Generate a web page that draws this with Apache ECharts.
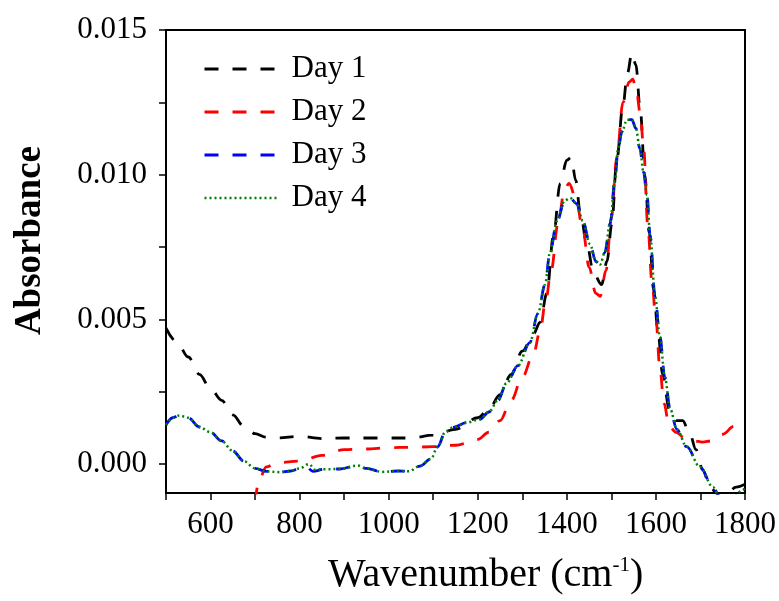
<!DOCTYPE html>
<html>
<head>
<meta charset="utf-8">
<script src="https://cdn.jsdelivr.net/npm/echarts@6/dist/echarts.min.js"></script>
<style>html,body{margin:0;padding:0;background:#fff;}#c{width:779px;height:601px;}</style>
</head>
<body>
<div id="c"></div>
<script>
var seriesNames = ['Day 1', 'Day 2', 'Day 3', 'Day 4'];
var xTickLabels = ['600', '800', '1000', '1200', '1400', '1600', '1800'];
var yTickLabels = ['0.000', '0.005', '0.010', '0.015'];

var day1X = [500,525,550,575,600,625,650,675,700,725,750,800,850,900,950,1000,1050,1100,1150,1200,1225,1250,1275,1300,1325,1340,1355,1370,1385,1400,1410,1420,1430,1445,1460,1478,1490,1501,1512,1526,1536,1546,1555,1565,1575,1585,1595,1605,1615,1630,1645,1660,1675,1690,1705,1720,1735,1748,1760,1780,1800];
var day1Y = [0.0047,0.0042,0.0037,0.0031,0.0026,0.0022,0.0017,0.0013,0.00105,0.00093,0.0009,0.00096,0.00088,0.0009,0.0009,0.0009,0.0009,0.0010,0.0012,0.0016,0.0019,0.0024,0.0031,0.0039,0.0045,0.0049,0.0059,0.0079,0.0097,0.0105,0.0106,0.0098,0.0087,0.0076,0.0066,0.0062,0.0070,0.0083,0.0105,0.0124,0.0135,0.0142,0.0138,0.0122,0.0100,0.0080,0.0060,0.0045,0.0031,0.0019,0.0015,0.0015,0.0011,0.0005,-0.0002,-0.0007,-0.0010,-0.0012,-0.0010,-0.0008,-0.0007];

var day2X = [700,710,725,750,800,850,900,950,1000,1050,1100,1150,1200,1225,1250,1275,1300,1325,1340,1352,1365,1380,1395,1405,1420,1435,1450,1465,1475,1488,1500,1512,1526,1540,1548,1556,1565,1572,1582,1591,1600,1609,1618,1630,1645,1665,1685,1705,1725,1750,1775,1800];
var day2Y = [-0.0013,-0.0005,-0.0001,0.00005,0.0001,0.0003,0.0005,0.00052,0.00057,0.00058,0.0006,0.00065,0.00085,0.0011,0.0015,0.0022,0.0030,0.0038,0.0046,0.0056,0.0067,0.0083,0.0095,0.0097,0.0092,0.0082,0.0068,0.0059,0.0058,0.0067,0.0085,0.0106,0.0125,0.0132,0.0133,0.0129,0.0121,0.0110,0.0082,0.0063,0.0050,0.0033,0.0021,0.0013,0.0011,0.0009,0.0008,0.00076,0.0008,0.00103,0.0013,0.0014];

var day3X = [500,515,530,550,575,600,625,650,675,700,725,755,780,800,815,830,855,890,930,950,985,1020,1045,1070,1095,1110,1127,1145,1175,1205,1225,1245,1265,1290,1317,1335,1351,1362,1378,1395,1407,1422,1436,1452,1465,1475,1485,1497,1508,1515,1524,1535,1546,1555,1564,1572,1580,1587,1598,1609,1620,1632,1647,1669,1699,1728,1745,1770,1800];
var day3Y = [0.00135,0.0016,0.00168,0.0016,0.00128,0.0011,0.0008,0.00045,0.0001,-0.00015,-0.00025,-0.00028,-0.00024,-0.00015,-0.0001,-0.00025,-0.00018,-0.00017,-0.00005,-0.00015,-0.00027,-0.00024,-0.00025,-0.00007,0.00018,0.0006,0.0011,0.00127,0.00143,0.00155,0.0018,0.0022,0.0028,0.0034,0.0042,0.0052,0.0062,0.0073,0.0084,0.0091,0.0092,0.0090,0.0084,0.0076,0.0070,0.0069,0.0073,0.0083,0.0098,0.0109,0.0115,0.0119,0.0119,0.0116,0.0109,0.0101,0.0093,0.0079,0.0058,0.0044,0.0030,0.0019,0.0012,0.0006,-0.0001,-0.0008,-0.0012,-0.0014,-0.0012];

var day4X = [500,515,530,550,575,600,625,650,675,700,725,755,780,800,821,835,855,890,930,950,985,1020,1045,1070,1095,1110,1127,1145,1175,1205,1225,1245,1265,1290,1317,1335,1351,1362,1378,1395,1407,1422,1436,1452,1465,1475,1485,1497,1508,1515,1524,1535,1546,1555,1564,1572,1580,1587,1598,1609,1620,1632,1647,1669,1699,1728,1745,1770,1795,1800];
var day4Y = [0.00135,0.0016,0.00168,0.0016,0.00128,0.0011,0.0008,0.00045,0.0001,-0.00015,-0.00025,-0.00028,-0.00024,-0.00015,0.0,-0.0002,-0.00018,-0.00017,-0.00005,-0.00015,-0.00027,-0.00024,-0.00025,-0.00007,0.00018,0.0006,0.0011,0.00127,0.00143,0.00155,0.0018,0.0022,0.0028,0.0034,0.0042,0.0052,0.0062,0.0073,0.0084,0.0091,0.0092,0.0090,0.0084,0.0076,0.0070,0.0069,0.0073,0.0083,0.0098,0.0109,0.0115,0.0119,0.0119,0.0116,0.0109,0.0101,0.0093,0.0079,0.0058,0.0044,0.0030,0.0019,0.0012,0.0006,-0.0001,-0.0008,-0.0012,-0.0012,-0.0009,-0.0008];

function zip(xs, ys) { return xs.map(function (x, i) { return [x, ys[i]]; }); }

var FONT = '"Liberation Serif", "Times New Roman", serif';
var chart = echarts.init(document.getElementById('c'), null, { renderer: 'canvas' });

function mkSeries(name, xs, ys, color, dash, width) {
  return {
    name: name, type: 'line', data: zip(xs, ys),
    smooth: 0.35, smoothMonotone: 'x', showSymbol: false, symbol: 'none', clip: true,
    lineStyle: { color: color, width: width, type: dash },
    itemStyle: { color: color }
  };
}

var yTickVals = yTickLabels.map(Number);
var xTickVals = xTickLabels.map(Number);
var dashed = [14, 14];
var dotted = [2, 3];

chart.setOption({
  animation: false,
  backgroundColor: '#fff',
  grid: { left: 166, right: 34, top: 30, bottom: 108, show: true, borderColor: '#000', borderWidth: 2, backgroundColor: 'transparent' },
  xAxis: {
    type: 'value', min: 500, max: 1800, interval: 100,
    axisLine: { show: true, onZero: false, lineStyle: { color: '#000', width: 2 } },
    axisTick: { show: true, inside: false, length: 7, lineStyle: { color: '#000', width: 1.5 } },
    axisLabel: {
      show: true, margin: 16, color: '#000', fontFamily: FONT, fontSize: 31, showMaxLabel: true, showMinLabel: true,
      formatter: function (v) { return xTickVals.indexOf(v) >= 0 ? String(v) : ''; }
    },
    splitLine: { show: false }
  },
  yAxis: {
    type: 'value', min: -0.001, max: 0.015,
    axisLine: { show: true, onZero: false, lineStyle: { color: '#000', width: 2 } },
    axisTick: { show: true, inside: false, length: 7, lineStyle: { color: '#000', width: 1.5 },
      customValues: [0, 0.0025, 0.005, 0.0075, 0.01, 0.0125, 0.015] },
    axisLabel: { show: true, margin: 19, color: '#000', fontFamily: FONT, fontSize: 31,
      customValues: yTickVals,
      formatter: function (v) { return v.toFixed(3); } },
    splitLine: { show: false }
  },
  legend: {
    show: true, orient: 'vertical', left: 198, top: 48,
    itemWidth: 72, itemHeight: 16, itemGap: 11,
    itemStyle: { opacity: 0 },
    textStyle: { fontFamily: FONT, fontSize: 31, color: '#000', padding: [0, 0, 0, 10], lineHeight: 32 },
    data: [
      { name: seriesNames[0], lineStyle: { type: dashed, width: 3 } },
      { name: seriesNames[1], lineStyle: { type: dashed, width: 3 } },
      { name: seriesNames[2], lineStyle: { type: dashed, width: 3 } },
      { name: seriesNames[3], lineStyle: { type: dotted, width: 2.5 } }
    ]
  },
  graphic: [
    { type: 'text', left: 12, top: 146, rotation: Math.PI / 2,
      style: { text: 'Absorbance', font: 'bold 37px ' + FONT, fill: '#000' } },
    { type: 'text', left: 328, top: 555,
      style: { text: '{m|Wavenumber (cm}{s|-1}{m|)}', fill: '#000',
        rich: { m: { fontFamily: FONT, fontSize: 40, fill: '#000' },
                s: { fontFamily: FONT, fontSize: 21, verticalAlign: 'top', fill: '#000' } } } }
  ],
  series: [
    mkSeries(seriesNames[0], day1X, day1Y, '#000000', dashed, 2.8),
    mkSeries(seriesNames[1], day2X, day2Y, '#ff0000', dashed, 2.8),
    mkSeries(seriesNames[2], day3X, day3Y, '#0000ff', dashed, 2.8),
    mkSeries(seriesNames[3], day4X, day4Y, '#008000', dotted, 2.5)
  ]
});
</script>
</body>
</html>
